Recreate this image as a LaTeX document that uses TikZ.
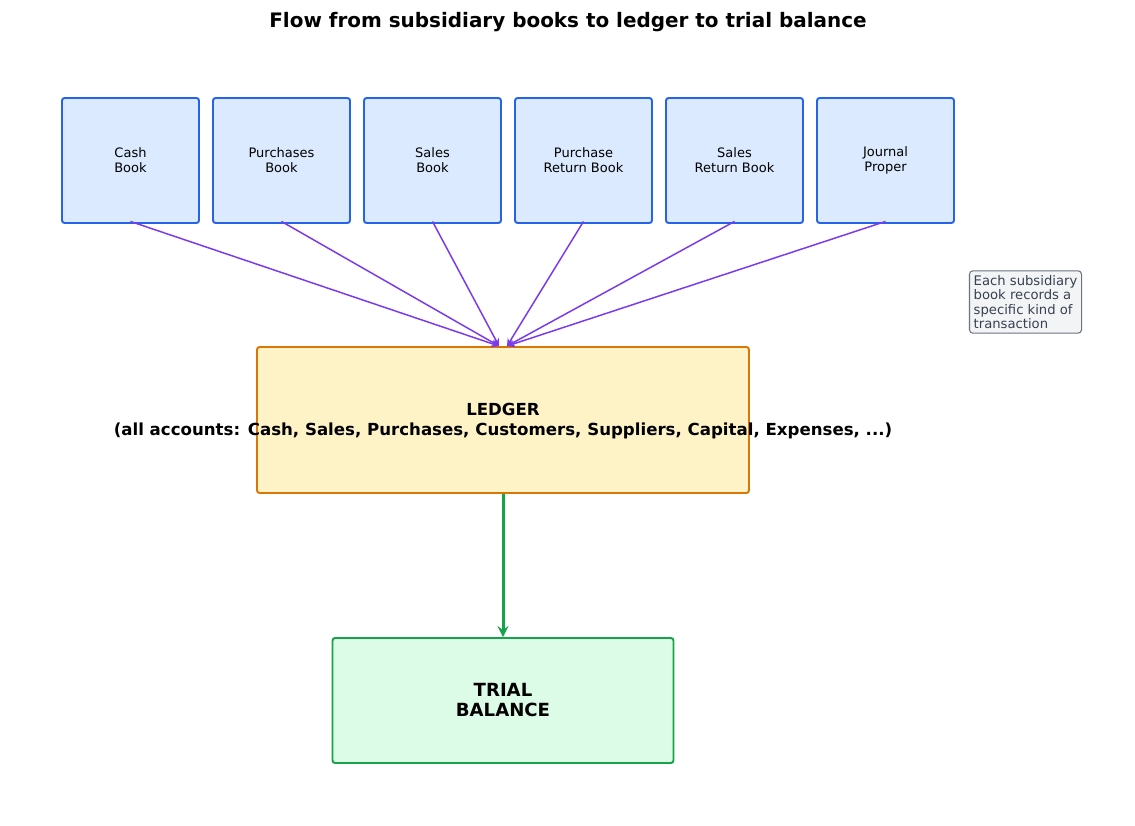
\documentclass[tikz,border=0pt]{standalone}
\usepackage{fontspec}
\setmainfont{DejaVu Sans}
\usepackage{tikz}

\definecolor{bookfill}{HTML}{DBEAFE}
\definecolor{bookline}{HTML}{2563EB}
\definecolor{ledgerfill}{HTML}{FEF3C7}
\definecolor{ledgerline}{HTML}{D97706}
\definecolor{tbfill}{HTML}{DCFCE7}
\definecolor{tbline}{HTML}{16A34A}
\definecolor{flowpurple}{HTML}{7C3AED}
\definecolor{notefill}{HTML}{F3F4F6}
\definecolor{noteline}{HTML}{6B7280}
\definecolor{notetext}{HTML}{374151}

\begin{document}
\begin{tikzpicture}[>=stealth,
  book/.style={draw=bookline,fill=bookfill,line width=1.1pt,rounded corners=1.5pt,
    minimum width=2.74cm,minimum height=2.5cm,inner sep=0pt,align=center,
    font=\fontsize{7.4}{8.5}\selectfont},
  feed/.style={->,draw=flowpurple,line width=0.85pt}]
  \useasboundingbox (0,0) rectangle (22.7,-16.52);
  \node[font=\fontsize{11.35}{13}\selectfont\bfseries] (title) at (11.36,-0.45) {Flow from subsidiary books to ledger to trial balance};

  \node[book] (cash) at (2.61,-3.21) {Cash\\Book};
  \node[book] (purch) at (5.63,-3.21) {Purchases\\Book};
  \node[book] (sales) at (8.65,-3.21) {Sales\\Book};
  \node[book] (purchret) at (11.67,-3.21) {Purchase\\Return Book};
  \node[book] (salesret) at (14.69,-3.21) {Sales\\Return Book};
  \node[book] (journal) at (17.71,-3.21) {Journal\\Proper};

  \node[draw=ledgerline,fill=ledgerfill,line width=1.1pt,rounded corners=1.5pt,
    minimum width=9.84cm,minimum height=2.92cm,inner sep=0pt] (ledger) at (10.06,-8.4) {};
  \node[align=center,font=\fontsize{9.45}{11.4}\selectfont\bfseries] (ledgertext) at ([yshift=-0.03cm]ledger.center)
    {LEDGER\\(all accounts: Cash, Sales, Purchases, Customers, Suppliers, Capital, Expenses, ...)};
  \coordinate (inl) at ([xshift=-0.08cm]ledger.north);
  \coordinate (inr) at ([xshift=0.08cm]ledger.north);

  \node[draw=tbline,fill=tbfill,line width=1.1pt,rounded corners=1.5pt,
    minimum width=6.82cm,minimum height=2.5cm,inner sep=0pt,align=center,
    font=\fontsize{10.3}{11.4}\selectfont\bfseries] (tb) at (10.06,-14.01) {TRIAL\\BALANCE};

  \node[draw=noteline,fill=notefill,line width=0.6pt,rounded corners=2pt,align=left,
    text=notetext,inner sep=2.4pt,font=\fontsize{7.5}{8.3}\selectfont] (note) at (20.51,-6.04)
    {Each subsidiary\\book records a\\specific kind of\\transaction};

  \draw[feed] ([yshift=0.05cm]cash.south) -- (inl);
  \draw[feed] ([yshift=0.05cm]purch.south) -- (inl);
  \draw[feed] ([yshift=0.05cm]sales.south) -- (inl);
  \draw[feed] ([yshift=0.05cm]purchret.south) -- (inr);
  \draw[feed] ([yshift=0.05cm]salesret.south) -- (inr);
  \draw[feed] ([yshift=0.05cm]journal.south) -- (inr);
  \draw[->,draw=tbline,line width=1.7pt] (ledger.south) -- (tb.north);
\end{tikzpicture}
\end{document}
